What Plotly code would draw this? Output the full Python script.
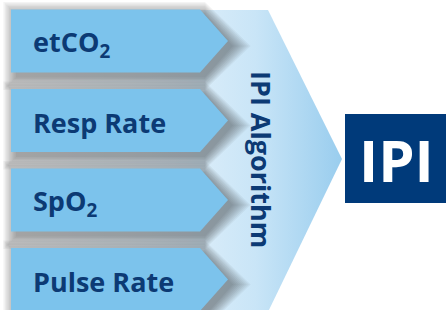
import plotly.graph_objects as go

# ---- content ----
input_labels = ["etCO<sub>2</sub>", "Resp Rate", "SpO<sub>2</sub>", "Pulse Rate"]
algorithm_label = "IPI Algorithm"
output_label = "IPI"

# ---- style / layout ----
W, H = 446, 310
ARROW_FILL = "#7cc3ec"
TEXT_NAVY = "#0c3a74"
BOX_FILL = "#003a7a"
FONT = "Open Sans"

arrow_left, arrow_rect_right, arrow_tip = 11, 200, 228
arrow_h = 63
first_center, spacing = 41, 79.5

chev_left, chev_top, chev_bottom = 11, 10, 312
chev_shoulder, chev_tip = 268, 342

box = dict(x0=345, x1=446, y0=114, y1=203)


def poly_path(pts):
    return "M " + " L ".join(f"{x},{y}" for x, y in pts) + " Z"


def arrow_pts(yc, grow=0.0, dx=0.0, dy=0.0):
    y0 = yc - arrow_h / 2 - grow + dy
    y1 = yc + arrow_h / 2 + grow + dy
    return [
        (arrow_left - grow + dx, y0),
        (arrow_rect_right + dx, y0),
        (arrow_tip + grow * 1.4 + dx, yc + dy),
        (arrow_rect_right + dx, y1),
        (arrow_left - grow + dx, y1),
    ]


fig = go.Figure()

# big chevron (gradient)
cx = [chev_left, chev_shoulder, chev_tip, chev_shoulder, chev_left, chev_left]
cy = [chev_top, chev_top, (chev_top + chev_bottom) / 2 - 2, chev_bottom, chev_bottom, chev_top]
fig.add_trace(go.Scatter(
    x=cx, y=cy, mode="lines", fill="toself", line=dict(width=0),
    fillgradient=dict(type="horizontal",
                      colorscale=[[0, "#ffffff"], [0.45, "#e4f1fa"], [0.74, "#c9e5f7"], [1, "#99cdee"]]),
    hoverinfo="skip", showlegend=False,
))

shapes = []
annotations = []
for i, lab in enumerate(input_labels):
    yc = first_center + i * spacing
    # soft shadow layers
    for k in range(10):
        shapes.append(dict(type="path", path=poly_path(arrow_pts(yc, grow=k * 1.4, dx=5, dy=5)),
                           fillcolor="#2a2a2a", opacity=0.05, line=dict(width=0), layer="above"))
    shapes.append(dict(type="path", path=poly_path(arrow_pts(yc)),
                       fillcolor=ARROW_FILL, line=dict(width=0), layer="above"))
    annotations.append(dict(x=31, y=yc + 2, xref="x", yref="y", text=lab, showarrow=False,
                            xanchor="left", yanchor="middle",
                            font=dict(family=FONT, size=27, color=TEXT_NAVY, weight=700)))

# output box
shapes.append(dict(type="rect", xref="x", yref="y", fillcolor=BOX_FILL, line=dict(width=0),
                   layer="above", **box))
annotations.append(dict(x=(box["x0"] + box["x1"]) / 2 + 1, y=(box["y0"] + box["y1"]) / 2 + 1,
                        xref="x", yref="y", text=output_label, showarrow=False,
                        xanchor="center", yanchor="middle",
                        font=dict(family=FONT, size=58, color="white", weight=700)))

# vertical algorithm label
annotations.append(dict(x=262, y=159, xref="x", yref="y", text=algorithm_label, showarrow=False,
                        textangle=90, xanchor="center", yanchor="middle",
                        font=dict(family=FONT, size=27, color=TEXT_NAVY, weight=700)))

fig.update_layout(
    width=W, height=H, margin=dict(l=0, r=0, t=0, b=0),
    paper_bgcolor="white", plot_bgcolor="white",
    shapes=shapes, annotations=annotations,
    xaxis=dict(range=[0, W], visible=False, fixedrange=True),
    yaxis=dict(range=[H, 0], visible=False, fixedrange=True),
    showlegend=False,
)
fig.write_html("out.html", config={"displayModeBar": False},
               post_script="document.body.style.margin='0';document.body.style.overflow='hidden';")
